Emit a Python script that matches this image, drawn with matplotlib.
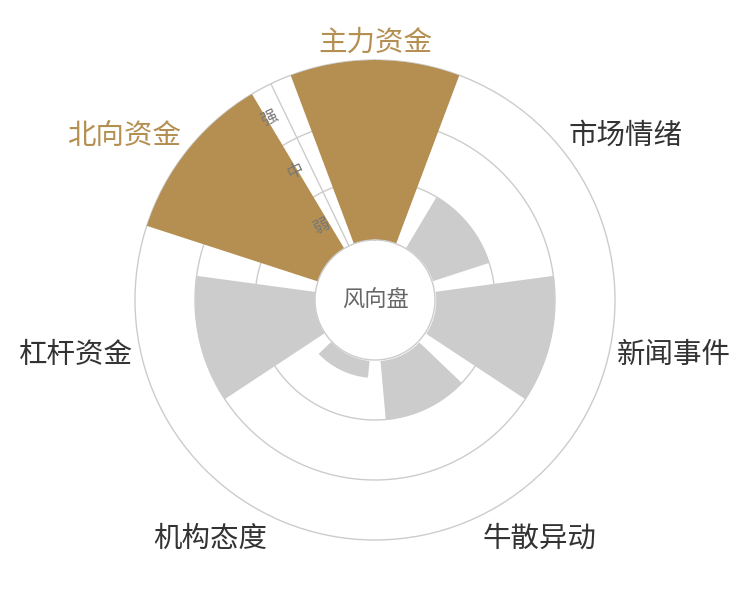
import numpy as np
import matplotlib.pyplot as plt

plt.rcParams['font.family'] = ['Noto Sans CJK SC', 'DejaVu Sans']

# clockwise from the top
categories = ['主力资金', '市场情绪', '新闻事件', '牛散异动', '机构态度', '杠杆资金', '北向资金']
strength = [3, 1, 2, 1, 0.3, 2, 3]   # in bands: 1 = 弱, 2 = 中, 3 = 强
levels = ['弱', '中', '强']
center_text = '风向盘'

gold = '#b58f51'
bar_grey = '#cccccc'
line_grey = '#cccccc'


def main():
    n = len(categories)
    step = 2 * np.pi / n
    theta = np.arange(n) * step

    fig = plt.figure(figsize=(7.5, 6), dpi=100, facecolor='white')
    ax = fig.add_axes([0.18, 0.1, 0.64, 0.8], projection='polar')
    ax.set_theta_zero_location('N')
    ax.set_theta_direction(-1)
    ax.set_ylim(0, 4)
    ax.grid(False)
    ax.set_xticks([])
    ax.set_yticks([])
    ax.spines['polar'].set_color(line_grey)
    ax.spines['polar'].set_linewidth(1)
    ax.spines['polar'].set_zorder(1)

    full = np.linspace(0, 2 * np.pi, 500)
    for r in [2, 3]:
        ax.plot(full, np.full_like(full, r), color=line_grey, lw=1, zorder=1)

    # radius axis sits in the gap between 北向资金 and 主力资金
    t_axis = theta[-1] + step / 2
    ax.plot([t_axis, t_axis], [1, 4], color=line_grey, lw=1, zorder=1)

    colors = [gold if s >= 3 else bar_grey for s in strength]
    ax.bar(theta, strength, width=step * 0.8, bottom=1, color=colors,
           linewidth=0, zorder=2)

    # hole in the middle
    ax.fill_between(full, 0, 1, color='white', zorder=3)
    ax.plot(full, np.ones_like(full), color=line_grey, lw=1, zorder=4)
    ax.text(0, 0, center_text, ha='center', va='center', fontsize=16,
            color='#666666', zorder=5)

    rot = (np.degrees(np.pi / 2 - t_axis) - 90) % 360
    for k, lab in enumerate(levels):
        ax.annotate(lab, xy=(t_axis, 1.5 + k), xytext=(-10.4, -5.0),
                    textcoords='offset points', rotation=rot,
                    rotation_mode='anchor', ha='center', va='center',
                    fontsize=12, color='#777777', zorder=6,
                    annotation_clip=False)

    # echarts-like label placement: 8px outside the ring
    r_lab = 4 + 8 / 60
    for i, name in enumerate(categories):
        a = np.pi / 2 - theta[i]
        c, s = np.cos(a), np.sin(a)
        dx, dy = 0, 0
        if abs(c) < 0.3:
            ha = 'center'
        else:
            ha = 'left' if c > 0 else 'right'
        if abs(s) < 0.3:
            va = 'center'
        elif s > 0:
            va = 'bottom'
            dy = -4
        else:
            va = 'top'
        col = gold if strength[i] >= 3 else '#333333'
        ax.annotate(name, xy=(theta[i], r_lab), xytext=(dx, dy),
                    textcoords='offset points', ha=ha, va=va,
                    fontsize=20.5, color=col, annotation_clip=False)

    fig.savefig('out.png', dpi=100, facecolor='white')


if __name__ == "__main__":
    main()
